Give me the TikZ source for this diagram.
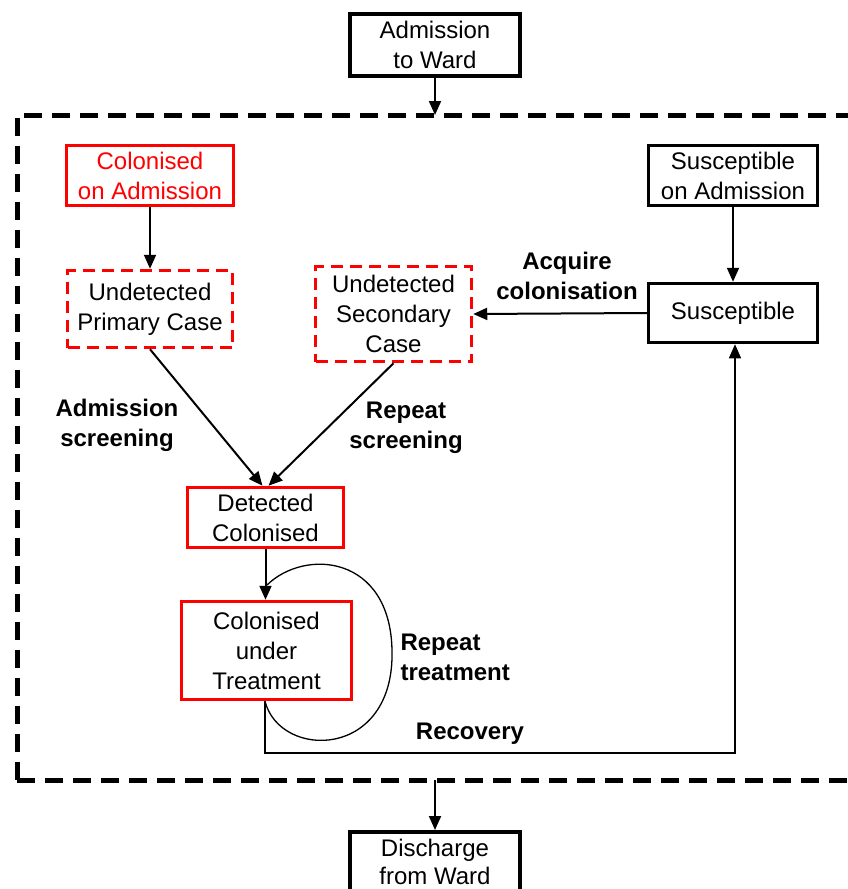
\documentclass[tikz,border=0pt]{standalone}
\usepackage{fontspec}
\setmainfont{Liberation Sans}
\usetikzlibrary{arrows.meta}
\begin{document}
\begin{tikzpicture}[x=1pt,y=-1pt,
  txt/.style={font=\fontsize{24}{30}\selectfont, align=center},
  lbl/.style={font=\fontsize{24}{30}\selectfont\bfseries, align=center},
  box/.style={txt, draw=black, line width=3.5pt, inner sep=0pt},
  redbox/.style={box, draw=red},
  reddash/.style={box, draw=red, dash pattern=on 12pt off 7pt},
  tip/.style={-{Triangle[length=14pt,width=12pt]}},
  flow/.style={line width=2pt, tip},
  thin/.style={line width=1.3pt}]
\useasboundingbox (0,0) rectangle (847,889);

% ward boundary
\draw[line width=5pt, dash pattern=on 18pt off 10pt] (17,780) -- (17,115) -- (870,115);
\draw[line width=5pt, dash pattern=on 18pt off 10pt] (17,780) -- (870,780);
\coordinate (wardtop) at (435,115);
\coordinate (wardbot) at (435,780);

% compartments
\node[box, minimum width=170, minimum height=62] (adm) at (435,45) {Admission\\to Ward};
\node[redbox, text=red, minimum width=167, minimum height=60] (colAdm) at (150,175.5) {Colonised\\on Admission};
\node[box, minimum width=169, minimum height=60] (susAdm) at (733,175.5) {Susceptible\\on Admission};
\node[reddash, minimum width=165, minimum height=77] (undP) at (150,309) {Undetected\\Primary Case};
\node[reddash, minimum width=156, minimum height=95] (undS) at (393.5,314) {Undetected\\Secondary\\Case};
\node[box, minimum width=169, minimum height=59] (sus) at (733,313) {Susceptible};
\node[redbox, minimum width=156, minimum height=60] (det) at (265.5,517.5) {Detected\\Colonised};
\node[redbox, minimum width=170, minimum height=98] (cut) at (266.5,650.5) {Colonised\\under\\Treatment};
\node[box, minimum width=170, minimum height=80, anchor=north] (dis) at (435,830) {\raisebox{20pt}{\shortstack{Discharge\\[2pt]from Ward}}};

% transitions
\draw[flow] (adm.south) -- (wardtop);
\draw[flow] (colAdm.south) -- (undP.north);
\draw[flow] (susAdm.south) -- (sus.north);
\draw[flow] (sus.west) -- (undS.east);
\draw[flow] (undP.south) -- ([xshift=-3pt]det.north);
\draw[flow] (undS.south) -- ([xshift=3pt]det.north);
\draw[flow] (det.south) -- (det.south |- cut.north);
\draw[flow] (wardbot) -- (dis.north);

% recovery and repeat treatment
\coordinate (cutb) at ([xshift=-1.5pt]cut.south);
\coordinate (loopend) at (267,585);
\draw[thin, tip] (cutb) |- (735,753) -- (sus.south -| 735,0);
\draw[thin] (cutb) .. controls (280,760) and (395,760) .. (392,650)
  .. controls (390,555) and (305,548) .. (loopend);

% labels
\node[lbl] (lacq) at (567,276) {Acquire\\colonisation};
\node[lbl] (ladm) at (117,425) {Admission\\screening};
\node[lbl] (lrep) at (406,428) {Repeat\\screening};
\node[lbl, align=left, anchor=west] (ltrt) at (397,657) {Repeat\\treatment};
\node[lbl] (lrec) at (470,734) {Recovery};
\end{tikzpicture}
\end{document}
